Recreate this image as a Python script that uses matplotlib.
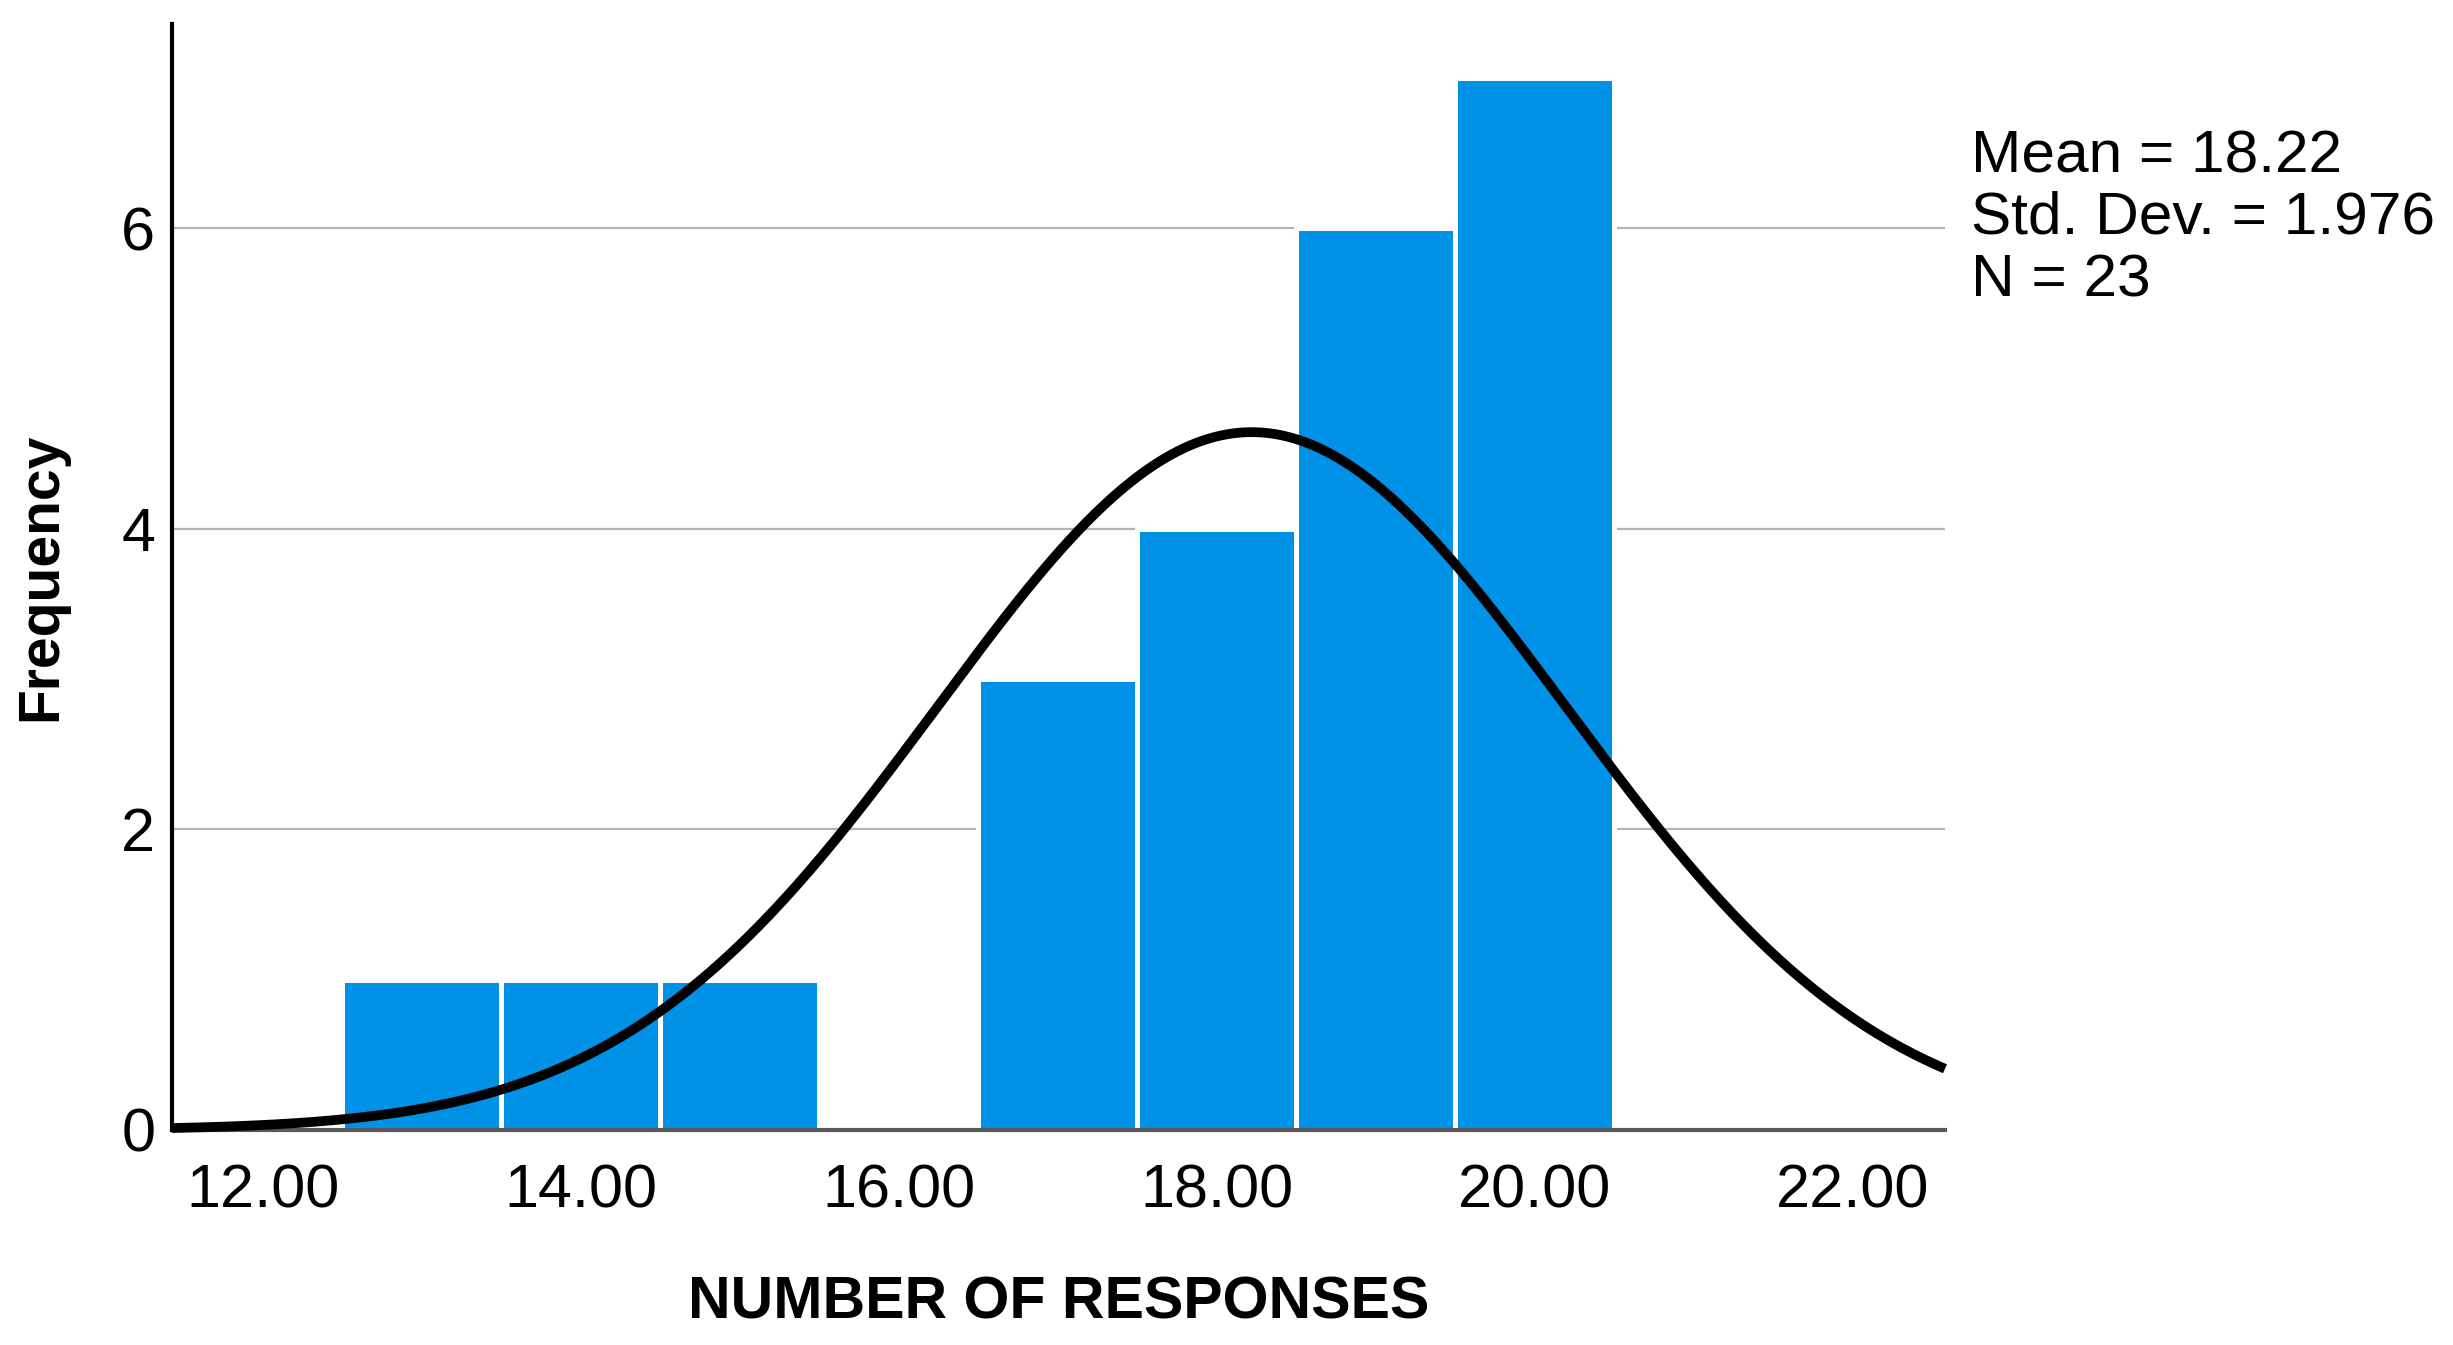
import numpy as np
import matplotlib
matplotlib.use("Agg")
import matplotlib.pyplot as plt

# ---- data ----
bin_centers = [13, 14, 15, 16, 17, 18, 19, 20]
frequencies = [1, 1, 1, 0, 3, 4, 6, 7]
mean_val = 18.22
std_val = 1.976
n_val = 23
x_ticks = [12, 14, 16, 18, 20, 22]
x_tick_labels = ["12.00", "14.00", "16.00", "18.00", "20.00", "22.00"]
y_ticks = [0, 2, 4, 6]
stats_lines = ["Mean = 18.22", "Std. Dev. = 1.976", "N = 23"]

plt.rcParams['font.family'] = ['Liberation Sans', 'DejaVu Sans']

fig = plt.figure(figsize=(24.53, 13.45), dpi=100)
ax = fig.add_axes([0.0701, 0.1599, 0.7228, 0.8223])

ax.bar(bin_centers, frequencies, width=1.0, color="#0092E6",
       edgecolor="white", linewidth=3.6, zorder=2)

xs = np.linspace(11.43, 22.58, 600)
ys = n_val * 1.0 / (std_val * np.sqrt(2 * np.pi)) * np.exp(-0.5 * ((xs - mean_val) / std_val) ** 2)
ax.plot(xs, ys, color="black", linewidth=7.0, zorder=4, solid_capstyle="butt", clip_on=False)

ax.set_xlim(11.43, 22.58)
ax.set_ylim(0, 7.36)

for yv in y_ticks[1:]:
    ax.axhline(yv, color="#b4b4b4", linewidth=1.6, zorder=1)

ax.set_xticks(x_ticks)
ax.set_xticklabels(x_tick_labels)
ax.set_yticks(y_ticks)
ax.tick_params(axis="x", length=0, pad=24, labelsize=44)
ax.tick_params(axis="y", length=0, pad=12, labelsize=44)

for s in ["top", "right"]:
    ax.spines[s].set_visible(False)
ax.spines["left"].set_color("black")
ax.spines["left"].set_linewidth(3)
ax.spines["bottom"].set_color("#5a5a5a")
ax.spines["bottom"].set_linewidth(3)
ax.spines["left"].set_zorder(5)
ax.spines["bottom"].set_zorder(3)

ax.set_xlabel("NUMBER OF RESPONSES", fontsize=42.5, fontweight="bold", labelpad=40)
ax.set_ylabel("Frequency", fontsize=41, fontweight="bold", labelpad=38)

baselines = [0.8717, 0.8263, 0.7797]
for txt, yb in zip(stats_lines, baselines):
    fig.text(0.8035, yb, txt, fontsize=43.5, ha="left", va="baseline")

fig.savefig("out.png", dpi=100, facecolor="white")
